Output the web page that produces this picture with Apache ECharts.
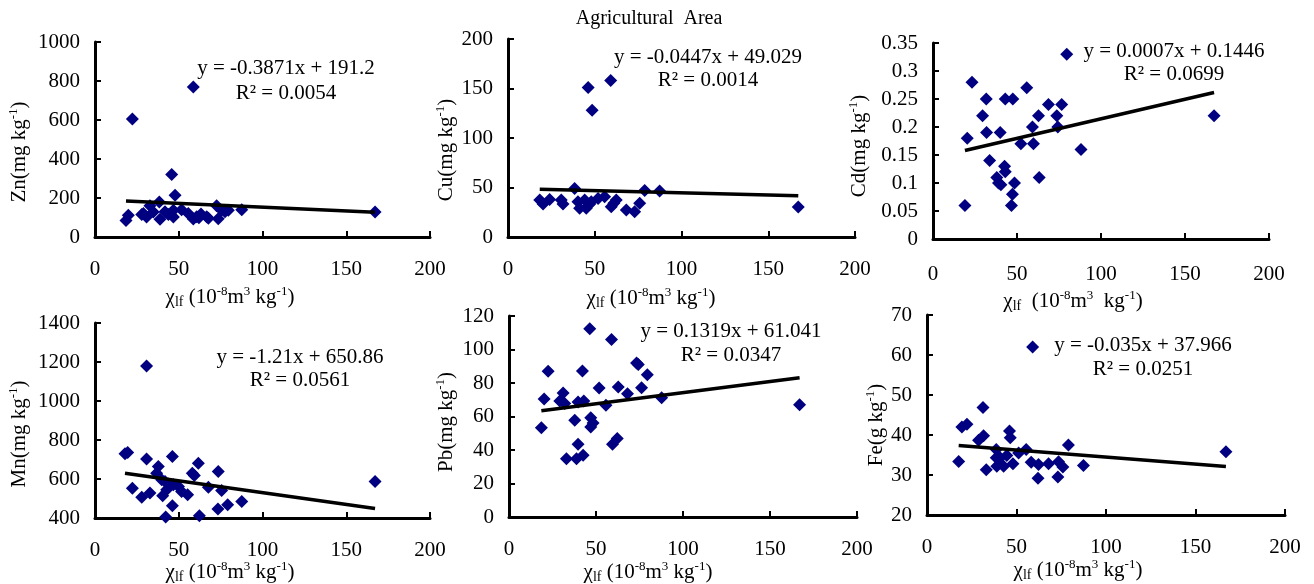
<!DOCTYPE html>
<html><head><meta charset="utf-8">
<script src="https://cdn.jsdelivr.net/npm/echarts@6/dist/echarts.min.js"></script>
<style>html,body{margin:0;padding:0;background:#fff}#c{width:1314px;height:584px}</style>
</head><body><div id="c"></div>
<script>
// ---------------- DATA ----------------
const titleText = 'Agricultural  Area';
const xMin = 0, xMax = 200, xStep = 50;
const elements = ['Zn', 'Cu', 'Cd', 'Mn', 'Pb', 'Fe'];
const units = ['mg kg', 'mg kg', 'mg kg', 'mg kg', 'mg kg', 'g kg'];
const yMin = [0, 0, 0, 400, 0, 20];
const yMax = [1000, 200, 0.35, 1400, 120, 70];
const yStep = [200, 50, 0.05, 200, 20, 10];
const slopes = [-0.3871, -0.0447, 0.0007, -1.21, 0.1319, -0.035];
const intercepts = [191.2, 49.029, 0.1446, 650.86, 61.041, 37.966];
const eqTexts = ['y = -0.3871x + 191.2', 'y = -0.0447x + 49.029', 'y = 0.0007x + 0.1446',
                 'y = -1.21x + 650.86', 'y = 0.1319x + 61.041', 'y = -0.035x + 37.966'];
const r2Texts = ['R² = 0.0054', 'R² = 0.0014', 'R² = 0.0699', 'R² = 0.0561', 'R² = 0.0347', 'R² = 0.0251'];

const znData = [[18.5,85],[19.9,111],[22.3,605],[27.9,115],[28.9,121],[30.8,103],[32.8,160],[34.8,128],[38.4,180],[38.8,91],[41.8,130],[43.8,115],[45.8,321],[46.8,103],[46.8,137],[47.8,214],[51.7,140],[55.7,121],[58.7,769],[58.7,92],[60.7,104],[62,99],[63.3,118],[66.7,104],[67.7,96],[72.6,160],[73.6,94],[75.6,137],[77.6,130],[79.6,137],[87.6,140],[167.2,128]];
const cuData = [[18.3,37.4],[20.2,33.3],[24,38],[30.7,37.4],[31.7,33.3],[38.4,49],[40.3,35.7],[41.3,29],[44.2,37.4],[45.1,29],[46.2,151],[47,33],[48,35.7],[48.5,128],[51.9,39],[55.7,40.7],[59.2,158],[59.5,30.6],[62.4,37.4],[61,34],[68.2,27.3],[73,25.6],[75.9,34],[78.8,47],[87.4,46.5],[167.3,30.4]];
const cdData = [[79.6,0.33],[23.2,0.28],[55.8,0.27],[31.7,0.25],[43,0.25],[47.5,0.25],[68.7,0.24],[76.6,0.24],[29.5,0.22],[62.8,0.22],[73.7,0.22],[167.3,0.22],[74.3,0.2],[59.2,0.2],[20.4,0.18],[31.9,0.19],[40,0.19],[52.3,0.17],[59.8,0.17],[88.1,0.16],[33.7,0.14],[42.6,0.13],[43,0.12],[38,0.11],[63.2,0.11],[39,0.1],[40.4,0.097],[48.5,0.1],[47.3,0.08],[46.7,0.06],[19,0.06]];
const mnData = [[17.9,729],[19.5,736],[22.3,553],[27.9,507],[30.8,1180],[30.8,702],[32.8,528],[36.8,630],[37.8,664],[39.8,596],[40.4,514],[41.8,587],[42.2,405],[42.8,545],[43.8,574],[46.2,715],[46.2,463],[46.8,570],[49.8,562],[51.7,536],[55.3,519],[58.1,630],[59.3,618],[61.7,681],[62.3,412],[67.7,558],[73.4,446],[73.6,638],[75.6,541],[79.2,468],[87.6,485],[167.2,587]];
const pbData = [[18.6,53.3],[20.2,70.4],[22.5,87],[29.2,69.3],[31.1,74],[32,67.7],[33,34.8],[37.8,57.7],[38.8,34.8],[39.7,68.7],[39.7,43.4],[42.2,87.2],[42.6,36.8],[43,69.3],[46.4,112.4],[47,59.3],[48.3,56.1],[47,53.7],[51.8,77],[55.7,66.7],[58.9,106],[59.5,43.4],[62.2,46.8],[62.8,77.6],[68.1,73.6],[73.3,92],[74.3,91],[76.2,77.2],[79.5,85],[87.7,71.2],[167,67]];
const feData = [[17.7,33.4],[19.5,42],[22.3,42.7],[28.8,38.7],[31.3,46.9],[31.6,39.8],[33.1,31.3],[38.7,36.4],[38.7,34.3],[39,32.2],[40.9,34.3],[42.8,32.2],[44.6,34.9],[46.1,41],[46.5,39.3],[48,32.8],[51.2,35.5],[55.4,36.4],[58.2,33.2],[59,62],[62,29.2],[62.3,32.6],[67.9,32.8],[73.1,29.5],[73.5,33.3],[75.9,32],[79,37.5],[87.4,32.4],[167,35.8]];
const panelData = [znData, cuData, cdData, mnData, pbData, feData];

// ---------------- LAYOUT / STYLE ----------------
const FONT = "'Liberation Serif','Times New Roman',serif";
const grids = [
  {left: 95,  top: 42,  width: 335, height: 195},
  {left: 508, top: 39,  width: 347, height: 198},
  {left: 933, top: 43,  width: 336, height: 196},
  {left: 95,  top: 323, width: 335, height: 195},
  {left: 509, top: 316, width: 348, height: 201},
  {left: 927, top: 315, width: 358, height: 200}
];
const xLabelMargin = [22, 22, 25, 22, 22, 22];
const eqPos = [[286, 68, 93], [708, 57, 80], [1174, 51, 74], [300, 357, 380], [731, 331, 355], [1143, 345, 369]];
const yNamePos = [[19, 152], [446, 150], [859, 146], [19, 434], [446, 422], [876, 425]];
const xNamePos = [[230, 297], [651, 298], [1073, 301], [230, 572], [648, 572], [1078, 570]];
const NAVY = '#000080';

const rich = {
  n:   {fontSize: 21, fontFamily: FONT, lineHeight: 24, fill: '#000', color: '#000'},
  sup: {fontSize: 13, fontFamily: FONT, lineHeight: 13, verticalAlign: 'top', fill: '#000', color: '#000'},
  sub: {fontSize: 14, fontFamily: FONT, lineHeight: 13, verticalAlign: 'bottom', fill: '#000', color: '#000'}
};

function yNameText(i) {
  return '{n|' + elements[i] + '(' + units[i] + '}{sup|-1}{n|)}';
}
function xNameText(i) {
  const gap = i === 2 ? '  (' : ' (';
  return '{n|χ}{sub|lf}{n|' + gap + '10}{sup|-8}{n|m}{sup|3}{n|' + (i === 2 ? '  kg' : ' kg') + '}{sup|-1}{n|)}';
}
const plainNum = v => String(+v.toFixed(4));

const axisLine = {show: true, onZero: false, lineStyle: {color: '#000', width: 3}};
const axisTick = {show: true, inside: true, length: 6, lineStyle: {color: '#000', width: 2}};

const xAxes = [], yAxes = [], series = [], graphic = [];
for (let i = 0; i < 6; i++) {
  xAxes.push({
    gridIndex: i, type: 'value', min: xMin, max: xMax, interval: xStep,
    axisLine, axisTick, splitLine: {show: false},
    axisLabel: {color: '#000', fontSize: 21, fontFamily: FONT, margin: xLabelMargin[i], formatter: plainNum}
  });
  yAxes.push({
    gridIndex: i, type: 'value', min: yMin[i], max: yMax[i], interval: yStep[i],
    axisLine, axisTick, splitLine: {show: false},
    axisLabel: {color: '#000', fontSize: 21, fontFamily: FONT, margin: 15, formatter: plainNum}
  });
  const d = panelData[i];
  series.push({
    type: 'scatter', xAxisIndex: i, yAxisIndex: i, data: d,
    symbol: 'diamond', symbolSize: 13, itemStyle: {color: NAVY, opacity: 1}, z: 2
  });
  const xs = d.map(p => p[0]);
  const x0 = Math.min(...xs), x1 = Math.max(...xs);
  series.push({
    type: 'line', xAxisIndex: i, yAxisIndex: i,
    data: [[x0, slopes[i] * x0 + intercepts[i]], [x1, slopes[i] * x1 + intercepts[i]]],
    symbol: 'none', lineStyle: {color: '#000', width: 3.5}, z: 3, silent: true
  });
  graphic.push({
    type: 'text', x: eqPos[i][0], y: eqPos[i][1], z: 10,
    style: {text: eqTexts[i], fontSize: 21, fontFamily: FONT, fill: '#000', align: 'center', verticalAlign: 'middle'}
  });
  graphic.push({
    type: 'text', x: eqPos[i][0], y: eqPos[i][2], z: 10,
    style: {text: r2Texts[i], fontSize: 21, fontFamily: FONT, fill: '#000', align: 'center', verticalAlign: 'middle'}
  });
  graphic.push({
    type: 'text', x: yNamePos[i][0], y: yNamePos[i][1], rotation: Math.PI / 2, z: 1,
    style: {text: yNameText(i), rich, align: 'center', verticalAlign: 'middle', fill: '#000'}
  });
  graphic.push({
    type: 'text', x: xNamePos[i][0], y: xNamePos[i][1], z: 10,
    style: {text: xNameText(i), rich, align: 'center', verticalAlign: 'middle', fill: '#000'}
  });
}
graphic.push({
  type: 'text', x: 649, y: 19, z: 10,
  style: {text: titleText, fontSize: 20, fontFamily: FONT, fill: '#000', align: 'center', verticalAlign: 'middle'}
});

const chart = echarts.init(document.getElementById('c'), null, {renderer: 'canvas'});
chart.setOption({
  animation: false,
  backgroundColor: '#fff',
  grid: grids,
  xAxis: xAxes,
  yAxis: yAxes,
  series,
  graphic
});
</script>
</body></html>
